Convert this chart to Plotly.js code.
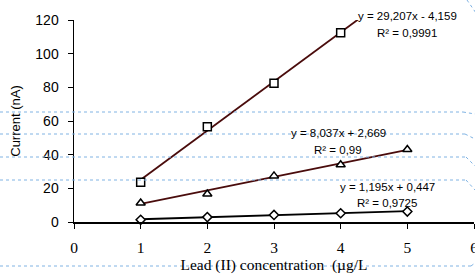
<!DOCTYPE html>
<html>
<head>
<meta charset="utf-8">
<script src="https://cdn.plot.ly/plotly-3.0.1.min.js"></script>
<style>html,body{margin:0;padding:0;background:#fff;}#chart{width:475px;height:280px;}</style>
</head>
<body>
<div id="chart"></div>
<script>
// ---- data ----
const concSquare = [1, 2, 3, 4];
const currSquare = [23.6, 56.6, 82.4, 112.5];
const concTriangle = [1, 2, 3, 4, 5];
const currTriangle = [11.3, 16.6, 27.4, 34.0, 43.1];
const concDiamond = [1, 2, 3, 4, 5];
const currDiamond = [1.3, 2.9, 4.2, 5.2, 6.2];

const trendSlopes = [29.207, 8.037, 1.195];
const trendIntercepts = [-4.159, 2.669, 0.447];
const trendXStart = [1, 1, 1];
const trendXEnd = [4.3, 5, 5];
const eqLabels = ["y = 29,207x - 4,159", "y = 8,037x + 2,669", "y = 1,195x + 0,447"];
const r2Labels = ["R² = 0,9991", "R² = 0,99", "R² = 0,9725"];

const xTickVals = [0, 1, 2, 3, 4, 5, 6];
const yTickVals = [0, 20, 40, 60, 80, 100, 120];

// ---- layout helpers (pixel -> paper) ----
const PL = 74, PR = 474, PT = 20, PB = 222;
const W = 475, H = 280;
const px = v => (v - PL) / (PR - PL);
const py = v => (PB - v) / (PB - PT);

const trendColors = ['#4a0c0c', '#4a0c0c', '#000000'];
const traces = [];
for (let i = 0; i < trendSlopes.length; i++) {
  const xs = [trendXStart[i], trendXEnd[i]];
  traces.push({
    x: xs,
    y: xs.map(v => trendSlopes[i] * v + trendIntercepts[i]),
    mode: 'lines', type: 'scatter', showlegend: false, hoverinfo: 'skip',
    line: {color: trendColors[i], width: 1.8}
  });
}
const mk = (sym, size) => ({symbol: sym, size: size, color: '#ffffff', line: {color: '#000', width: 1.5}});
traces.push({x: concSquare, y: currSquare, mode: 'markers', type: 'scatter', showlegend: false, marker: mk('square', 8), cliponaxis: false});
traces.push({x: concTriangle, y: currTriangle, mode: 'markers', type: 'scatter', showlegend: false, marker: mk('triangle-up', 8), cliponaxis: false});
traces.push({x: concDiamond, y: currDiamond, mode: 'markers', type: 'scatter', showlegend: false, marker: mk('diamond', 7), cliponaxis: false});

const labelPos = [[407, 16, 33], [338, 133, 150], [387, 187, 203]];
const annFont = {family: 'Liberation Sans, Arial, sans-serif', size: 11.5, color: '#000'};
const annotations = [];
for (let i = 0; i < eqLabels.length; i++) {
  annotations.push({xref: 'paper', yref: 'paper', x: px(labelPos[i][0]), y: py(labelPos[i][1]), text: eqLabels[i], showarrow: false, font: annFont, xanchor: 'center', yanchor: 'middle'});
  annotations.push({xref: 'paper', yref: 'paper', x: px(labelPos[i][0]), y: py(labelPos[i][2]), text: r2Labels[i], showarrow: false, font: annFont, xanchor: 'center', yanchor: 'middle'});
}

// faint blue guide-line artefacts seen in the reference
const segs = [
  [0,112,463,112],[463,112,475,114],
  [0,134,465,134],[465,134,475,139],
  [0,157,466,157],[466,157,475,166],
  [0,180,466,180],[466,180,475,190],
  [0,266,471,266],[471,266,475,263],
  [467,0,476,13]
];
const shapes = segs.map(s => ({
  type: 'line', xref: 'paper', yref: 'paper', layer: 'above',
  x0: px(s[0]), y0: py(s[1]), x1: px(s[2]), y1: py(s[3]),
  line: {color: '#80b3e3', width: 1, dash: 'dot'}
}));

const layout = {
  width: W, height: H,
  margin: {l: PL, r: W - PR, t: PT, b: H - PB, pad: 0},
  paper_bgcolor: '#fff', plot_bgcolor: '#fff',
  showlegend: false,
  xaxis: {
    range: [0, 6], tickvals: xTickVals, ticktext: xTickVals.map(String),
    showgrid: false, zeroline: false, showline: true, linecolor: '#000', linewidth: 1.5,
    ticks: 'outside', ticklen: 5, tickwidth: 1, tickcolor: '#000', ticklabelstandoff: 6,
    ticklabeloverflow: 'allow',
    tickfont: {family: 'Liberation Serif, Times New Roman, serif', size: 15.5, color: '#000'},
    title: {text: 'Lead (II) concentration\u00a0 (µg/L', standoff: 4,
      font: {family: 'Liberation Serif, Times New Roman, serif', size: 15.5, color: '#000'}},
    automargin: false
  },
  yaxis: {
    range: [0, 120], tickvals: yTickVals, ticktext: yTickVals.map(String),
    showgrid: false, zeroline: false, showline: true, linecolor: '#000', linewidth: 1.5,
    ticks: 'outside', ticklen: 5, tickwidth: 1, tickcolor: '#000', ticklabelstandoff: 6,
    tickfont: {family: 'Liberation Sans, Arial, sans-serif', size: 14, color: '#000'},
    title: {text: 'Current (nA)', standoff: 12,
      font: {family: 'Liberation Sans, Arial, sans-serif', size: 13, color: '#000'}},
    automargin: false
  },
  annotations: annotations,
  shapes: shapes
};

Plotly.newPlot('chart', traces, layout, {staticPlot: true, displayModeBar: false});
</script>
</body>
</html>
